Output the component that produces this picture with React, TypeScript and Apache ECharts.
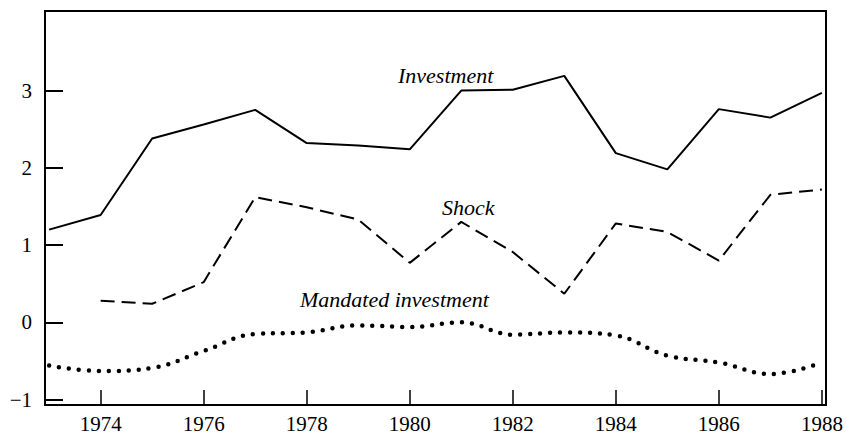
import React, { useEffect, useRef } from "react";
import * as echarts from "echarts";

const years = [1973, 1974, 1975, 1976, 1977, 1978, 1979, 1980, 1981, 1982, 1983, 1984, 1985, 1986, 1987, 1988];
const investment = [1.2, 1.39, 2.38, 2.56, 2.75, 2.32, 2.29, 2.24, 3.0, 3.01, 3.19, 2.19, 1.98, 2.76, 2.65, 2.97];
const shock = [null, 0.28, 0.24, 0.52, 1.62, 1.49, 1.33, 0.77, 1.3, 0.91, 0.37, 1.28, 1.17, 0.8, 1.65, 1.72];
const mandated = [-0.56, -0.63, -0.59, -0.37, -0.15, -0.13, -0.04, -0.06, 0.0, -0.16, -0.13, -0.17, -0.43, -0.52, -0.67, -0.52];
const xTicks = [1974, 1976, 1978, 1980, 1982, 1984, 1986, 1988];
const yTicks = [-1, 0, 1, 2, 3];

const FONT = "Liberation Serif, Times New Roman, serif";

export default function App() {
  const ref = useRef<HTMLDivElement>(null);
  useEffect(() => {
    if (!ref.current) return;
    const chart = echarts.init(ref.current, null, { renderer: "svg" });
    const pairs = (arr: (number | null)[]) =>
      years.map((y, i) => [y, arr[i]]).filter((p) => p[1] !== null);
    chart.setOption({
      animation: false,
      grid: {
        left: 45,
        right: 20,
        top: 11,
        bottom: 32,
        show: true,
        borderColor: "#000",
        borderWidth: 2,
        backgroundColor: "transparent",
      },
      xAxis: {
        type: "value",
        min: 1972.92,
        max: 1988.08,
        splitLine: { show: false },
        axisLine: { show: true, onZero: false, lineStyle: { color: "#000", width: 2 } },
        axisTick: { show: true, inside: true, length: 15, customValues: xTicks, lineStyle: { color: "#000", width: 1.5 } },
        axisLabel: {
          customValues: xTicks,
          color: "#000",
          fontFamily: FONT,
          fontSize: 21,
          margin: 8,
          formatter: (v: number) => String(v),
        },
      },
      yAxis: {
        type: "value",
        min: -1.07,
        max: 4.03,
        splitLine: { show: false },
        axisLine: { show: true, onZero: false, lineStyle: { color: "#000", width: 2 } },
        axisTick: { show: true, inside: true, length: 18, customValues: yTicks, lineStyle: { color: "#000", width: 2 } },
        axisLabel: {
          customValues: yTicks,
          color: "#000",
          fontFamily: FONT,
          fontSize: 21,
          margin: 13,
          formatter: (v: number) => (v < 0 ? "\u2212" + Math.abs(v) : String(v)),
        },
      },
      series: [
        {
          type: "line",
          data: pairs(investment),
          showSymbol: false,
          lineStyle: { color: "#000", width: 2 },
        },
        {
          type: "line",
          data: pairs(shock),
          showSymbol: false,
          lineStyle: { color: "#000", width: 2, type: [14, 7] },
        },
        {
          type: "line",
          data: pairs(mandated),
          showSymbol: false,
          smooth: 0.4,
          lineStyle: { color: "#000", width: 4.5, type: [0, 10], cap: "round" },
        },
      ],
      graphic: [
        {
          type: "text",
          left: 398,
          top: 64,
          style: { text: "Investment", font: `italic 22px ${FONT}`, fill: "#000" },
        },
        {
          type: "text",
          left: 442,
          top: 196,
          style: { text: "Shock", font: `italic 22px ${FONT}`, fill: "#000" },
        },
        {
          type: "text",
          left: 300,
          top: 288,
          style: { text: "Mandated investment", font: `italic 22px ${FONT}`, fill: "#000" },
        },
      ],
    });
    return () => chart.dispose();
  }, []);
  return <div ref={ref} style={{ width: 846, height: 437, position: "absolute", left: 0, top: 0 }} />;
}
